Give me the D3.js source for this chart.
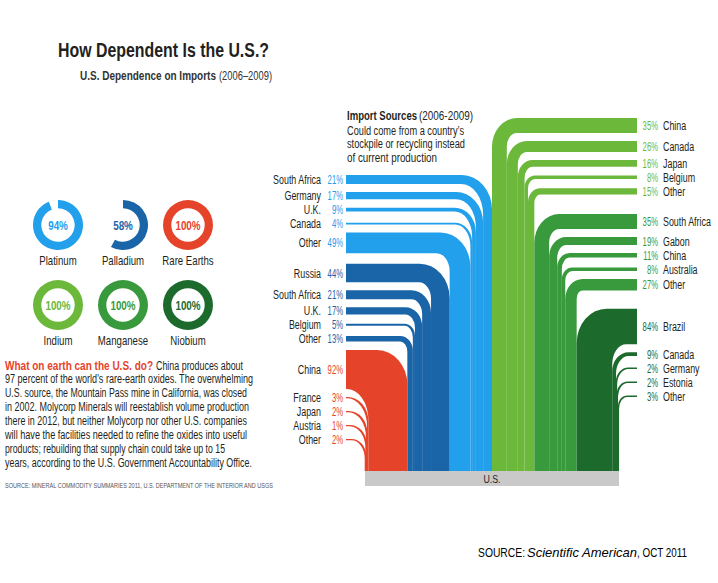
<!DOCTYPE html>
<html><head><meta charset="utf-8">
<script src="https://cdn.jsdelivr.net/npm/d3@7"></script>
<style>
body{margin:0;background:#fff;}
svg text{font-family:"Liberation Sans",Arial,sans-serif;fill:#231f20;}
</style></head><body>
<svg id="c" width="718" height="583"></svg>
<script>
// ---------- data ----------
const donutMinerals = ["Platinum","Palladium","Rare Earths","Indium","Manganese","Niobium"];
const importReliance = [94,58,100,100,100,100];

const platinumSources = ["South Africa","Germany","U.K.","Canada","Other"];
const platinumShares  = [21,17,9,4,49];
const palladiumSources = ["Russia","South Africa","U.K.","Belgium","Other"];
const palladiumShares  = [44,21,17,5,13];
const rareEarthSources = ["China","France","Japan","Austria","Other"];
const rareEarthShares  = [92,3,2,1,2];
const indiumSources = ["China","Canada","Japan","Belgium","Other"];
const indiumShares  = [35,26,16,8,15];
const manganeseSources = ["South Africa","Gabon","China","Australia","Other"];
const manganeseShares  = [35,19,11,8,27];
const niobiumSources = ["Brazil","Canada","Germany","Estonia","Other"];
const niobiumShares  = [84,9,2,2,3];

const streamOrder = ["Rare Earths","Palladium","Platinum","Indium","Manganese","Niobium"];

const titleText = "How Dependent Is the U.S.?";
const subtitleMain = "U.S. Dependence on Imports";
const subtitleYears = "(2006–2009)";
const sourcesHeading = ["Import Sources", "(2006-2009)"];
const sourcesNote = ["Could come from a country’s","stockpile or recycling instead","of current production"];
const leadIn = "What on earth can the U.S. do?";
const bodyLines = [
  "China produces about",
  "97 percent of the world’s rare-earth oxides. The overwhelming",
  "U.S. source, the Mountain Pass mine in California, was closed",
  "in 2002. Molycorp Minerals will reestablish volume production",
  "there in 2012, but neither Molycorp nor other U.S. companies",
  "will have the facilities needed to refine the oxides into useful",
  "products; rebuilding that supply chain could take up to 15",
  "years, according to the U.S. Government Accountability Office."
];
const leftSource = "SOURCE: MINERAL COMMODITY SUMMARIES 2011, U.S. DEPARTMENT OF THE INTERIOR AND USGS";
const baseLabel = "U.S.";
const creditParts = ["SOURCE:", "Scientific American", ", OCT 2011"];

// ---------- styles / layout ----------
const color = {"Platinum":"#22a0ec","Palladium":"#1a64a8","Rare Earths":"#e6432b",
               "Indium":"#6cb83b","Manganese":"#389a3c","Niobium":"#1d6a2d"};
const svg = d3.select("#c");
function condense(sel, f){
  sel.each(function(){
    const L = this.getComputedTextLength();
    d3.select(this).attr("textLength", L*f).attr("lengthAdjust","spacingAndGlyphs");
  });
  return sel;
}
function fit(sel, width){ return sel.attr("textLength",width).attr("lengthAdjust","spacingAndGlyphs"); }

// Title
fit(svg.append("text").attr("x",58).attr("y",56.5), 211)
  .style("font-size","19.5px").style("font-weight","bold").text(titleText);
fit(svg.append("text").attr("x",80).attr("y",80), 136)
  .style("font-size","13px").style("font-weight","bold").style("fill","#333").text(subtitleMain);
fit(svg.append("text").attr("x",219).attr("y",80), 53)
  .style("font-size","12.5px").style("fill","#333").text(subtitleYears);

// Donuts
const dx = d3.scalePoint().domain([0,1,2]).range([58,188]);
const dy = d3.scalePoint().domain([0,1]).range([225,305]);
const arc = d3.arc().innerRadius(16.7).outerRadius(25);
donutMinerals.forEach((m,i)=>{
  const g = svg.append("g").attr("transform",`translate(${dx(i%3)},${dy(Math.floor(i/3))})`);
  g.append("path").attr("d",arc({startAngle:0,endAngle:2*Math.PI*importReliance[i]/100})).attr("fill",color[m]);
  condense(g.append("text").attr("text-anchor","middle").attr("y",4.5)
    .style("font-size","12px").style("font-weight","bold")
    .style("fill",color[m]).text(importReliance[i]+"%"), 0.82);
  condense(g.append("text").attr("text-anchor","middle").attr("y",39.5)
    .style("font-size","13px").text(m), 0.74);
});

// Paragraph
const pY0 = 369.5, pDy = 13.9;
fit(svg.append("text").attr("x",5).attr("y",pY0), 148)
  .style("font-size","12.5px").style("font-weight","bold").style("fill","#e6432b").text(leadIn);
const lineWidths = [87,248,242,244,242,242,220,247];
bodyLines.forEach((l,i)=>{
  fit(svg.append("text").attr("x", i===0?156:5).attr("y",pY0+i*pDy), lineWidths[i])
    .style("font-size","12.5px").text(l);
});
fit(svg.append("text").attr("x",5).attr("y",487.5), 268)
  .style("font-size","6.5px").style("fill","#555").text(leftSource);

// Import sources heading
fit(svg.append("text").attr("x",347).attr("y",119.5), 70)
  .style("font-size","12px").style("font-weight","bold").text(sourcesHeading[0]);
fit(svg.append("text").attr("x",419).attr("y",119.5), 54)
  .style("font-size","12px").text(sourcesHeading[1]);
const noteW = [117,118,90];
sourcesNote.forEach((l,i)=>{
  fit(svg.append("text").attr("x",347).attr("y",134.5+i*13.6), noteW[i])
    .style("font-size","12px").text(l);
});

// Streams
const x = d3.scaleBand().domain(streamOrder).range([365,619]).padding(0);
const w = d3.scaleLinear().domain([0,100]).range([0,x.bandwidth()]);
const yBottom = 471;
const layout = {
  "Platinum":   {side:"left",  c0:179.5, r0:22},
  "Palladium":  {side:"left",  c0:273,   r0:12},
  "Rare Earths":{side:"left",  c0:369.5, r0:22},
  "Indium":     {side:"right", c0:125.5, r0:10},
  "Manganese":  {side:"right", c0:221.5, r0:10},
  "Niobium":    {side:"right", c0:326.5, r0:14}
};
const groups = [
  {mineral:"Platinum",   sources:platinumSources,  shares:platinumShares},
  {mineral:"Palladium",  sources:palladiumSources, shares:palladiumShares},
  {mineral:"Rare Earths",sources:rareEarthSources, shares:rareEarthShares},
  {mineral:"Indium",     sources:indiumSources,    shares:indiumShares},
  {mineral:"Manganese",  sources:manganeseSources, shares:manganeseShares},
  {mineral:"Niobium",    sources:niobiumSources,   shares:niobiumShares}
];
const xLeftStart = 346, xRightStart = 637, minT = 1.4;

groups.forEach(gr=>{
  const L = layout[gr.mineral], col = color[gr.mineral];
  const t = gr.shares.map(s=>w(s));
  const centers = [];
  t.forEach((ti,i)=>{ centers[i] = i===0 ? L.c0 : centers[i-1] + Math.max(14, t[i-1]/2 + ti/2 + 8); });
  let edge = L.side==="left" ? x(gr.mineral)+x.bandwidth() : x(gr.mineral);
  const g = svg.append("g");
  gr.shares.forEach((s,i)=>{
    let xl, xr;
    if (L.side==="left"){ xr = edge; xl = edge - t[i]; edge = xl; }
    else { xl = edge; xr = edge + t[i]; edge = xr; }
    const tv = Math.max(t[i], minT);
    const cx = (xl+xr)/2; xl = cx - tv/2; xr = cx + tv/2;
    const yt = centers[i] - tv/2;
    let Ri = L.r0*(1-0.1*i);
    let Ro = Math.min(Ri + tv, 30);
    let p;
    if (L.side==="left"){
      Ri = Math.min(Ri, xl - xLeftStart - 0.5);
      Ro = Math.min(Ro, xr - xLeftStart);
      const ryo = Ro*1.15, ryi = Ri*1.4;
      p = `M${xLeftStart},${yt}H${xr-Ro}A${Ro},${ryo} 0 0 1 ${xr},${yt+ryo}V${yBottom}H${xl}V${yt+tv+ryi}A${Ri},${ryi} 0 0 0 ${xl-Ri},${yt+tv}H${xLeftStart}Z`;
    } else {
      Ri = Math.min(Ri, xRightStart - xr - 0.5);
      Ro = Math.min(Ro, xRightStart - xl);
      const ryo = Ro*1.15, ryi = Ri*1.4;
      p = `M${xRightStart},${yt}H${xl+Ro}A${Ro},${ryo} 0 0 0 ${xl},${yt+ryo}V${yBottom}H${xr}V${yt+tv+ryi}A${Ri},${ryi} 0 0 1 ${xr+Ri},${yt+tv}H${xRightStart}Z`;
    }
    g.append("path").attr("d",p).attr("fill",col);
    const ly = centers[i] + 4.6;
    if (L.side==="left"){
      condense(svg.append("text").attr("x",321).attr("y",ly).attr("text-anchor","end").style("font-size","12px").text(gr.sources[i]), 0.74);
      condense(svg.append("text").attr("x",343).attr("y",ly).attr("text-anchor","end").style("font-size","12px").style("fill",col).text(s+"%"), 0.64);
    } else {
      condense(svg.append("text").attr("x",658).attr("y",ly).attr("text-anchor","end").style("font-size","12px").style("fill",col).text(s+"%"), 0.64);
      condense(svg.append("text").attr("x",663).attr("y",ly).style("font-size","12px").text(gr.sources[i]), 0.74);
    }
  });
});

// Base bar
svg.append("rect").attr("x",x.range()[0]).attr("y",yBottom).attr("width",x.range()[1]-x.range()[0]).attr("height",15).attr("fill","#c9c9c9");
condense(svg.append("text").attr("x",(x.range()[0]+x.range()[1])/2).attr("y",482.5).attr("text-anchor","middle")
  .style("font-size","11px").text(baseLabel), 0.8);

// Bottom credit
fit(svg.append("text").attr("x",478).attr("y",557).style("font-size","13px").style("fill","#000"), 47).text(creditParts[0]);
fit(svg.append("text").attr("x",527).attr("y",557).style("font-size","13px").style("font-style","italic").style("fill","#000"), 110).text(creditParts[1]);
fit(svg.append("text").attr("x",637).attr("y",557).style("font-size","13px").style("fill","#000"), 50).text(creditParts[2]);
</script>
</body></html>
